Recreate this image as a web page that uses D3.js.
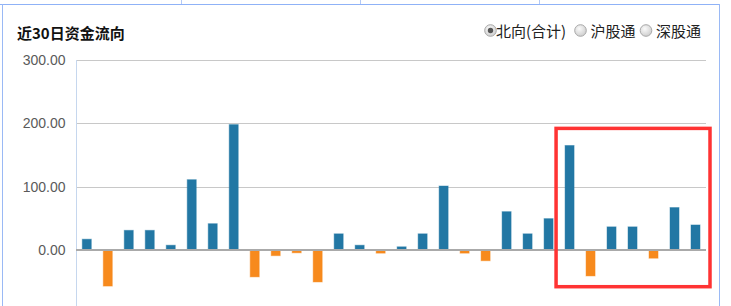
<!DOCTYPE html>
<html><head><meta charset="utf-8">
<script src="https://cdn.jsdelivr.net/npm/d3@7/dist/d3.min.js"></script>
<style>
html,body{margin:0;padding:0;background:#fff;}
svg{display:block;}
</style></head>
<body>
<script>
// ---- data ----
const title = "近30日资金流向";
const categories = ["D1","D2","D3","D4","D5","D6","D7","D8","D9","D10","D11","D12","D13","D14","D15",
  "D16","D17","D18","D19","D20","D21","D22","D23","D24","D25","D26","D27","D28","D29","D30"];
const values = [17, -57, 31, 31, 7.5, 111, 41.5, 198, -42.5, -9, -4.5, -50.5, 25.5, 7.5, -5,
  5, 25.5, 101, -5, -17, 60.5, 25.5, 49.5, 165, -41, 36.5, 36.5, -13, 67, 39.5];
const yTicks = [0, 100, 200, 300];
const yDomain = [-100, 300];
const legendItems = ["北向(合计)", "沪股通", "深股通"];
const legendSelected = 0;
const highlightRange = ["D24", "D30"];
const highlightValues = [192, -58];

// ---- drawing ----
const W = 731, H = 306;
const svg = d3.select("body").append("svg").attr("width", W).attr("height", H);

// frame / tabs
const frame = svg.append("g").attr("shape-rendering", "crispEdges");
frame.append("line").attr("x1", 0).attr("x2", 720).attr("y1", 4.5).attr("y2", 4.5)
  .attr("stroke", "#8fb2f7").attr("stroke-width", 1.5);
[181, 360, 539].forEach(x => frame.append("line").attr("x1", x + 0.5).attr("x2", x + 0.5)
  .attr("y1", 0).attr("y2", 4).attr("stroke", "#b3c9f6"));
frame.append("line").attr("x1", 2.5).attr("x2", 2.5).attr("y1", 4).attr("y2", H)
  .attr("stroke", "#9ab9f5");
frame.append("line").attr("x1", 719.5).attr("x2", 719.5).attr("y1", 4).attr("y2", H)
  .attr("stroke", "#9ab9f5");

// title
svg.append("text").attr("x", 17).attr("y", 38.5)
  .attr("font-family", "'Noto Sans CJK SC', sans-serif").attr("font-weight", "bold")
  .attr("font-size", 15).attr("fill", "#111").text(title);

// legend radios
const defs = svg.append("defs");
const grad = defs.append("radialGradient").attr("id", "rg").attr("cx", "40%").attr("cy", "35%").attr("r", "70%");
grad.append("stop").attr("offset", "0%").attr("stop-color", "#fafafa");
grad.append("stop").attr("offset", "100%").attr("stop-color", "#cccccc");

const legendX = [490.5, 580.5, 646];
const legendTextDx = [5.5, 10, 10];
const lg = svg.append("g");
legendItems.forEach((t, i) => {
  const g = lg.append("g").attr("transform", `translate(${legendX[i]},30.5)`);
  g.append("circle").attr("r", 5.8).attr("fill", "url(#rg)").attr("stroke", "#a8a8a8").attr("stroke-width", 1);
  if (i === legendSelected) g.append("circle").attr("r", 2.7).attr("fill", "#555");
  g.append("text").attr("x", legendTextDx[i]).attr("y", 6.5)
    .attr("font-family", "'Noto Sans CJK SC', sans-serif").attr("font-size", 15)
    .attr("fill", "#222").text(t);
});

// scales
const x = d3.scaleBand().domain(categories).range([76.3, 706]).paddingInner(0.57).paddingOuter(0.285);
const y = d3.scaleLinear().domain(yDomain).range([313.3, 60]);

// gridlines
const grid = svg.append("g").attr("shape-rendering", "crispEdges");
grid.selectAll("line").data(yTicks.filter(d => d !== 0)).join("line")
  .attr("x1", 76).attr("x2", 706)
  .attr("y1", d => Math.round(y(d)) + 0.5).attr("y2", d => Math.round(y(d)) + 0.5)
  .attr("stroke", "#c8c8c8").attr("stroke-width", 1.5);

// y axis
const yAxis = d3.axisLeft(y).tickValues(yTicks).tickFormat(d3.format(".2f")).tickSize(0).tickPadding(11);
const ya = svg.append("g").attr("transform", "translate(76.5,0)").call(yAxis);
ya.select(".domain").remove();
ya.selectAll("text").attr("font-family", "'Liberation Sans', Arial, sans-serif")
  .attr("font-size", 14).attr("fill", "#5a5a5a");
svg.append("line").attr("x1", 76.5).attr("x2", 76.5).attr("y1", 60).attr("y2", H)
  .attr("stroke", "#c6d7ee").attr("stroke-width", 1);

// bars
const data = categories.map((c, i) => ({ c, v: values[i] }));
svg.append("g").selectAll("rect").data(data).join("rect")
  .attr("x", d => x(d.c)).attr("width", x.bandwidth())
  .attr("y", d => y(Math.max(0, d.v)))
  .attr("height", d => Math.abs(y(d.v) - y(0)))
  .attr("fill", d => d.v >= 0 ? "#2277a4" : "#f78a1d")
  .attr("stroke", d => d.v >= 0 ? "#2277a4" : "#f78a1d")
  .attr("stroke-opacity", 0.45).attr("stroke-width", 1);

// zero line
svg.append("line").attr("x1", 76).attr("x2", 706).attr("y1", y(0)).attr("y2", y(0))
  .attr("stroke", "#aaaaaa").attr("stroke-width", 2);

// highlight annotation
const step = x.step();
const hx0 = x(highlightRange[0]) - (step - x.bandwidth()) / 2 - 3;
const hx1 = x(highlightRange[1]) + x.bandwidth() + (step - x.bandwidth()) / 2 + 4;
svg.append("rect").attr("x", hx0).attr("y", y(highlightValues[0]))
  .attr("width", hx1 - hx0).attr("height", y(highlightValues[1]) - y(highlightValues[0]))
  .attr("fill", "none").attr("stroke", "#ff3333").attr("stroke-width", 3.5);
</script>
</body></html>
